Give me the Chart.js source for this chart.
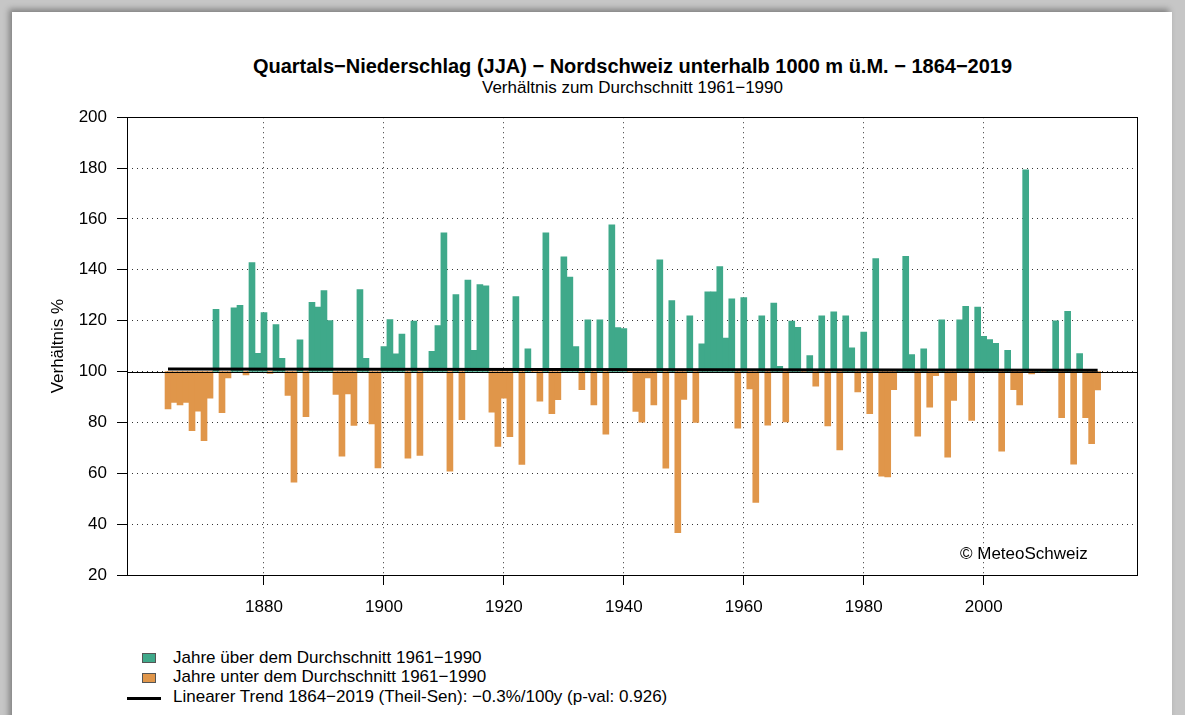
<!DOCTYPE html>
<html>
<head>
<meta charset="utf-8">
<script src="https://cdn.jsdelivr.net/npm/chart.js@4.4.1/dist/chart.umd.min.js"></script>
<style>
body { margin: 0; width: 1185px; height: 715px; overflow: hidden; background: #c6c6c6; font-family: "Liberation Sans", Arial, sans-serif; color: #000; }
#panel { position: absolute; left: 12px; top: 12px; width: 1160px; height: 720px; background: #fff; box-shadow: -3px -3px 6px rgba(0,0,0,0.35); }
.txt { position: absolute; white-space: nowrap; }
#title { left: 127px; width: 1011px; top: 55px; text-align: center; font-weight: bold; font-size: 20px; line-height: 22px; }
#subtitle { left: 127px; width: 1011px; top: 78px; text-align: center; font-size: 17px; line-height: 20px; }
#copy { left: 960px; top: 544px; font-size: 17px; line-height: 20px; }
#wrap { position: absolute; left: 20px; top: 97px; width: 1130px; height: 528px; }
.leg { position: absolute; left: 173px; font-size: 17px; line-height: 20px; }
.box { position: absolute; left: 142px; width: 12px; height: 8px; border: 1px solid #555; }
#trendKey { position: absolute; left: 127px; top: 697px; width: 34px; height: 3px; background: #000; }
</style>
</head>
<body>
<div id="panel"></div>
<div class="txt" id="title">Quartals−Niederschlag (JJA) − Nordschweiz unterhalb 1000 m ü.M. − 1864−2019</div>
<div class="txt" id="subtitle">Verhältnis zum Durchschnitt 1961−1990</div>
<div id="wrap"><canvas id="chart"></canvas></div>
<div class="txt" id="copy">© MeteoSchweiz</div>

<div class="box" style="top:653px;background:#3fa98a"></div>
<div class="txt leg" style="top:648px">Jahre über dem Durchschnitt 1961−1990</div>
<div class="box" style="top:673px;background:#e0964a"></div>
<div class="txt leg" style="top:667px">Jahre unter dem Durchschnitt 1961−1990</div>
<div id="trendKey"></div>
<div class="txt leg" style="top:687px">Linearer Trend 1864−2019 (Theil-Sen): −0.3%/100y (p-val: 0.926)</div>

<script>
// summer precipitation (JJA), % of the 1961-1990 mean, one value per year from 1864
const firstYear = 1864;
const ratio = [
    85.3, 87.9, 86.9, 87.9, 76.7, 84.4, 72.8, 89.5, 124.5, 83.8,   // 1864-1873
    97.5, 125.0, 126.0, 98.7, 142.8, 107.2, 123.2, 99.3, 118.5, 105.2, // 1874-1883
    90.6, 56.5, 112.5, 82.3, 127.2, 125.3, 131.8, 120.0, 91.0, 66.7,  // 1884-1893
    91.2, 78.8, 132.2, 105.2, 79.4, 62.1, 109.8, 120.4, 107.0, 114.7, // 1894-1903
    65.9, 119.8, 67.0, 100.4, 107.9, 118.1, 154.5, 60.8, 130.3, 81.1, // 1904-1913
    136.0, 108.3, 134.2, 133.7, 84.0, 70.6, 89.5, 74.4, 129.5, 63.5,  // 1914-1923
    108.9, 99.6, 88.3, 154.5, 83.4, 88.9, 145.1, 137.1, 109.8, 92.9,  // 1924-1933
    120.3, 86.9, 120.3, 75.4, 157.7, 117.3, 116.9, 99.6, 84.3, 80.1,  // 1934-1943
    97.5, 86.9, 143.9, 62.0, 127.9, 36.6, 89.0, 121.9, 80.0, 110.9,   // 1944-1953
    131.3, 131.3, 141.3, 113.2, 128.6, 77.7, 129.1, 93.2, 48.5, 121.9, // 1954-1963
    78.9, 126.9, 102.0, 80.2, 119.8, 117.4, 99.6, 106.3, 94.2, 121.9, // 1964-1973
    78.6, 123.5, 69.2, 121.9, 109.3, 92.0, 115.5, 83.4, 144.4, 58.9,  // 1974-1983
    58.6, 92.9, 100.3, 145.3, 106.7, 74.6, 108.9, 86.0, 98.4, 120.3,  // 1984-1993
    66.3, 88.6, 120.3, 125.6, 80.8, 125.3, 113.8, 112.6, 111.1, 68.7, // 1994-2003
    108.3, 92.9, 86.9, 179.3, 99.1, 100.3, 99.6, 100.4, 119.9, 81.9,  // 2004-2013
    123.7, 63.6, 107.1, 81.9, 71.6, 92.8                              // 2014-2019
];
const baseline = 100;
const trendYears = [1864, 2019];
const trendValues = [101.0, 100.53];
const xTicks = [1880, 1900, 1920, 1940, 1960, 1980, 2000];

const above = [];
const below = [];
ratio.forEach((v, i) => {
    const pt = { x: firstYear + i, y: [baseline, v] };
    if (v >= baseline) above.push(pt); else below.push(pt);
});

const frame = {
    id: 'frame',
    afterDatasetsDraw(chart) {
        const { ctx, chartArea: a, scales: { y } } = chart;
        ctx.save();
        ctx.strokeStyle = '#000';
        ctx.lineWidth = 1;
        const y100 = Math.round(y.getPixelForValue(baseline)) + 0.5;
        ctx.beginPath();
        ctx.moveTo(a.left, y100);
        ctx.lineTo(a.right, y100);
        ctx.stroke();
        ctx.strokeRect(Math.round(a.left) + 0.5, Math.round(a.top) + 0.5, Math.round(a.width) - 1, Math.round(a.height));
        ctx.restore();
    }
};

const dotted = {
    color: 'rgba(0,0,0,0.8)',
    lineWidth: 1,
    offset: false,
    tickLength: 10,
    tickColor: '#000',
    tickBorderDash: []
};

new Chart(document.getElementById('chart'), {
    type: 'bar',
    data: {
        datasets: [
            {
                type: 'line',
                data: trendYears.map((yr, i) => ({ x: yr, y: trendValues[i] })),
                borderColor: '#000',
                borderWidth: 3,
                pointRadius: 0,
                order: 0
            },
            {
                data: above,
                backgroundColor: '#3fa98a',
                borderWidth: 0,
                grouped: false,
                barPercentage: 1,
                categoryPercentage: 1,
                order: 1
            },
            {
                data: below,
                backgroundColor: '#e0964a',
                borderWidth: 0,
                grouped: false,
                barPercentage: 1,
                categoryPercentage: 1,
                order: 1
            }
        ]
    },
    options: {
        responsive: true,
        maintainAspectRatio: false,
        animation: false,
        layout: { padding: { left: 0, top: 12, right: 12, bottom: 0 } },
        plugins: {
            legend: { display: false },
            tooltip: { enabled: false }
        },
        scales: {
            x: {
                type: 'linear',
                offset: false,
                min: 1857.16,
                max: 2025.73,
                afterBuildTicks: (s) => { s.ticks = xTicks.map(v => ({ value: v })); },
                afterFit: (s) => { s.height = 50; },
                border: { display: false, dash: [1, 4] },
                grid: dotted,
                ticks: {
                    color: '#000',
                    font: { family: 'Liberation Sans', size: 17 },
                    padding: 12,
                    maxRotation: 0,
                    callback: (v) => String(v)
                }
            },
            y: {
                min: 20,
                max: 200,
                afterFit: (s) => { s.width = 107; },
                border: { display: false, dash: [1, 4] },
                grid: dotted,
                ticks: {
                    stepSize: 20,
                    color: '#000',
                    font: { family: 'Liberation Sans', size: 17 },
                    padding: 10
                },
                title: {
                    display: true,
                    text: 'Verhältnis %',
                    color: '#000',
                    font: { family: 'Liberation Sans', size: 17 },
                    padding: { top: 28, bottom: 0 }
                }
            }
        }
    },
    plugins: [frame]
});
</script>
</body>
</html>
